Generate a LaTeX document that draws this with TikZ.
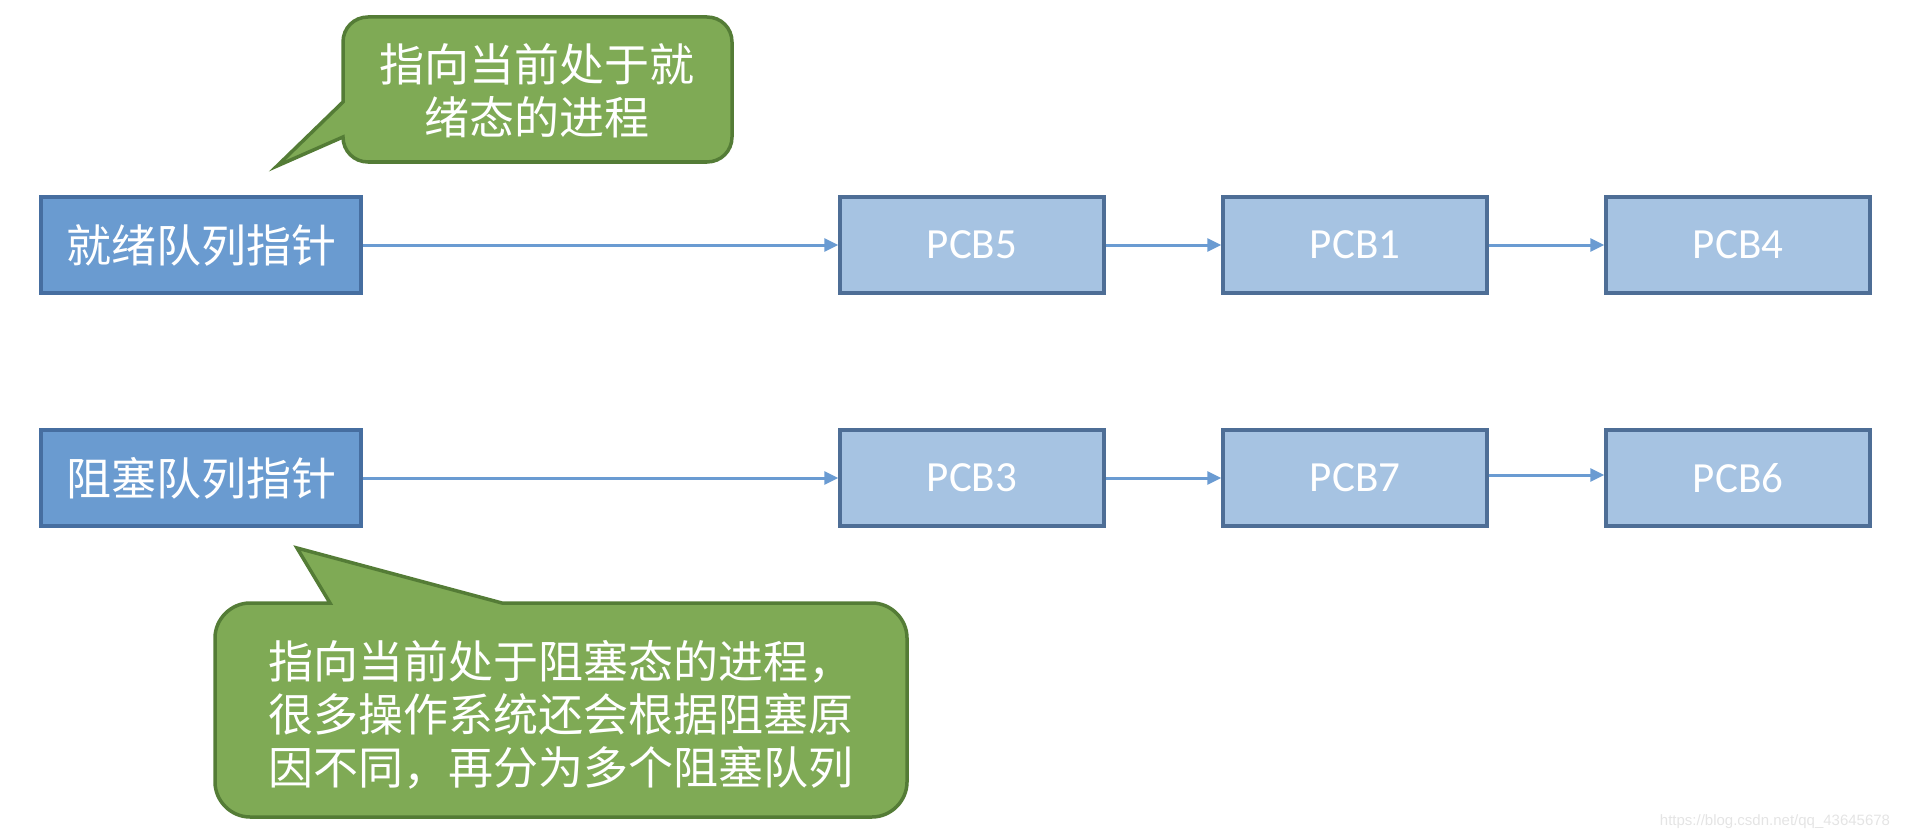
\documentclass[tikz,border=0pt]{standalone}
\usepackage{fontspec}
\newfontfamily\cjkfont{Noto Sans CJK SC}
\newfontfamily\pcbfont{Carlito}
\newfontfamily\wmfont{Liberation Sans}
\usetikzlibrary{arrows.meta}
\definecolor{ptrfill}{RGB}{106,155,208}
\definecolor{ptrdraw}{RGB}{70,110,160}
\definecolor{pcbfill}{RGB}{166,195,226}
\definecolor{pcbdraw}{RGB}{78,110,150}
\definecolor{arrowc}{RGB}{106,155,210}
\definecolor{bubfill}{RGB}{127,170,85}
\definecolor{bubdraw}{RGB}{84,124,54}
\definecolor{wmcol}{RGB}{228,228,228}
\begin{document}
\begin{tikzpicture}[x=1pt,y=-1pt,
 ptr/.style={draw=ptrdraw, fill=ptrfill, line width=3.5pt, minimum width=320pt, minimum height=96pt, inner sep=0pt, text=white, font=\cjkfont\fontsize{45}{53}\selectfont},
 pcb/.style={draw=pcbdraw, fill=pcbfill, line width=3.5pt, minimum width=264pt, minimum height=96pt, inner sep=0pt, text=white, font=\pcbfont\fontsize{43}{50}\selectfont},
 link/.style={draw=arrowc, line width=3pt, -{Triangle[length=14pt,width=13pt]}},
 bubble/.style={fill=bubfill, draw=bubdraw, line width=3.5pt, line join=miter},
 bubtext/.style={text=white, font=\cjkfont\fontsize{45}{53}\selectfont, inner sep=0pt}]
\useasboundingbox (0,0) rectangle (1906,840);

% callout shapes
\path[bubble] (368,17) -- (707,17) .. controls (721,17) and (732,28) .. (732,42) -- (732,137)
  .. controls (732,151) and (721,162) .. (707,162) -- (368,162) .. controls (354,162) and (343,151) .. (343,137)
  -- (277,166) -- (343,102) -- (343,42) .. controls (343,28) and (354,17) .. (368,17) -- cycle;
\path[bubble] (250,603) -- (330,603) -- (297,548) -- (502,603) -- (872,603)
  .. controls (891,603) and (907,619) .. (907,638) -- (907,782) .. controls (907,801) and (891,817) .. (872,817)
  -- (250,817) .. controls (231,817) and (215,801) .. (215,782) -- (215,638)
  .. controls (215,619) and (231,603) .. (250,603) -- cycle;

\node[bubtext, align=center] (readynote) at (537,91) {指向当前处于就\\绪态的进程};
\node[bubtext, align=left] (blocknote) at (561,715) {指向当前处于阻塞态的进程，\\很多操作系统还会根据阻塞原\\因不同，再分为多个阻塞队列};

% boxes
\node[ptr] (ready) at (201,245) {就绪队列指针};
\node[ptr] (blocked) at (201,478) {阻塞队列指针};
\node[pcb] (pcb5) at (972,245) {PCB5};
\node[pcb] (pcb1) at (1355,245) {PCB1};
\node[pcb] (pcb4) at (1738,245) {PCB4};
\node[pcb] (pcb3) at (972,478) {PCB3};
\node[pcb] (pcb7) at (1355,478) {PCB7};
\node[pcb] (pcb6) at (1738,478) {PCB6};

% links
\draw[link] (ready) -- (pcb5);
\draw[link] (pcb5) -- (pcb1);
\draw[link] (pcb1) -- (pcb4);
\draw[link] (blocked) -- (pcb3);
\draw[link] (pcb3) -- (pcb7);
\draw[link] ([yshift=3pt]pcb7.east) -- ([yshift=3pt]pcb6.west);

\node[text=wmcol, font=\wmfont\fontsize{15}{18}\selectfont, inner sep=0pt] (wm) at (1775,822) {https://blog.csdn.net/qq\_43645678};
\end{tikzpicture}
\end{document}
